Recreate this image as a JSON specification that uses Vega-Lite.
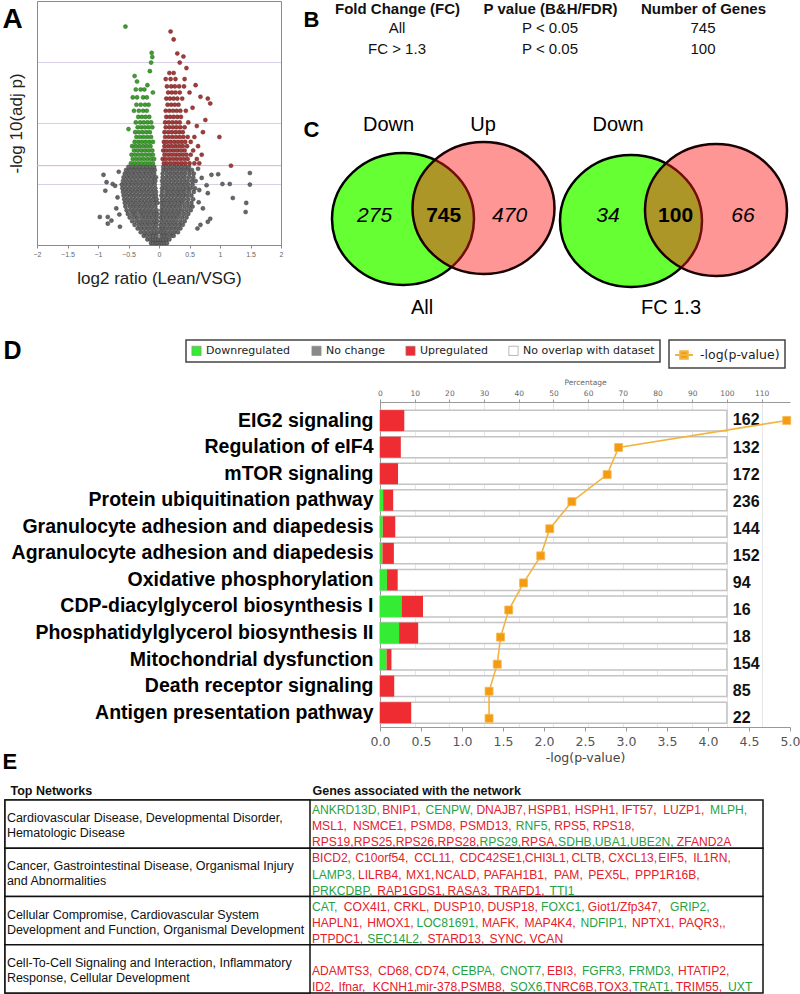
{
"$schema": "https://vega.github.io/schema/vega-lite/v6.json",
"width": 800, "height": 994,
"autosize": "none",
"padding": 0,
"background": "white",
"config": {
  "view": {"stroke": null},
  "font": "Liberation Sans",
  "axis": {"labelFont": "Liberation Sans", "titleFont": "Liberation Sans"},
  "text": {"font": "Liberation Sans"},
  "legend": {"strokeWidth": 1.5}
},
"resolve": {"scale": {"x": "independent", "y": "independent"}, "axis": {"x": "independent", "y": "independent"}},
"datasets": {
  "ns": [
{"x":-0.13,"y":0.03},{"x":-0.09,"y":0.03},{"x":-0.05,"y":0.03},{"x":-0.02,"y":0.03},{"x":0.02,"y":0.03},{"x":0.05,"y":0.03},{"x":0.09,"y":0.03},{"x":0.13,"y":0.03},
{"x":-0.19,"y":0.09},{"x":-0.14,"y":0.09},{"x":-0.09,"y":0.09},{"x":-0.05,"y":0.09},{"x":-0.01,"y":0.09},{"x":0.03,"y":0.09},{"x":0.07,"y":0.09},{"x":0.12,"y":0.09},{"x":0.17,"y":0.09},
{"x":-0.25,"y":0.15},{"x":-0.2,"y":0.15},{"x":-0.14,"y":0.15},{"x":-0.09,"y":0.15},{"x":-0.04,"y":0.15},{"x":0.04,"y":0.15},{"x":0.09,"y":0.15},{"x":0.14,"y":0.15},{"x":0.2,"y":0.15},{"x":0.24,"y":0.15},
{"x":-0.3,"y":0.21},{"x":-0.24,"y":0.21},{"x":-0.18,"y":0.21},{"x":-0.12,"y":0.21},{"x":-0.07,"y":0.21},{"x":-0.02,"y":0.21},{"x":0.03,"y":0.21},{"x":0.08,"y":0.21},{"x":0.13,"y":0.21},{"x":0.19,"y":0.21},{"x":0.25,"y":0.21},{"x":0.31,"y":0.21},
{"x":-0.35,"y":0.27},{"x":-0.29,"y":0.27},{"x":-0.23,"y":0.27},{"x":-0.17,"y":0.27},{"x":-0.11,"y":0.27},{"x":-0.05,"y":0.27},{"x":0.02,"y":0.27},{"x":0.06,"y":0.27},{"x":0.11,"y":0.27},{"x":0.17,"y":0.27},{"x":0.23,"y":0.27},{"x":0.29,"y":0.27},{"x":0.35,"y":0.27},
{"x":-0.4,"y":0.33},{"x":-0.33,"y":0.33},{"x":-0.27,"y":0.33},{"x":-0.21,"y":0.33},{"x":-0.15,"y":0.33},{"x":-0.09,"y":0.33},{"x":-0.04,"y":0.33},{"x":0.03,"y":0.33},{"x":0.09,"y":0.33},{"x":0.15,"y":0.33},{"x":0.21,"y":0.33},{"x":0.27,"y":0.33},{"x":0.33,"y":0.33},{"x":0.39,"y":0.33},
{"x":-0.44,"y":0.39},{"x":-0.37,"y":0.39},{"x":-0.31,"y":0.39},{"x":-0.25,"y":0.39},{"x":-0.19,"y":0.39},{"x":-0.13,"y":0.39},{"x":-0.07,"y":0.39},{"x":-0.03,"y":0.39},{"x":0.04,"y":0.39},{"x":0.1,"y":0.39},{"x":0.16,"y":0.39},{"x":0.22,"y":0.39},{"x":0.28,"y":0.39},{"x":0.35,"y":0.39},{"x":0.42,"y":0.39},
{"x":-0.48,"y":0.45},{"x":-0.41,"y":0.45},{"x":-0.35,"y":0.45},{"x":-0.28,"y":0.45},{"x":-0.22,"y":0.45},{"x":-0.16,"y":0.45},{"x":-0.1,"y":0.45},{"x":-0.04,"y":0.45},{"x":0.03,"y":0.45},{"x":0.07,"y":0.45},{"x":0.13,"y":0.45},{"x":0.19,"y":0.45},{"x":0.25,"y":0.45},{"x":0.31,"y":0.45},{"x":0.38,"y":0.45},{"x":0.45,"y":0.45},
{"x":-0.51,"y":0.51},{"x":-0.44,"y":0.51},{"x":-0.38,"y":0.51},{"x":-0.31,"y":0.51},{"x":-0.25,"y":0.51},{"x":-0.19,"y":0.51},{"x":-0.13,"y":0.51},{"x":-0.07,"y":0.51},{"x":-0.03,"y":0.51},{"x":0.04,"y":0.51},{"x":0.1,"y":0.51},{"x":0.16,"y":0.51},{"x":0.22,"y":0.51},{"x":0.28,"y":0.51},{"x":0.34,"y":0.51},{"x":0.41,"y":0.51},{"x":0.48,"y":0.51},
{"x":-0.53,"y":0.57},{"x":-0.46,"y":0.57},{"x":-0.4,"y":0.57},{"x":-0.34,"y":0.57},{"x":-0.28,"y":0.57},{"x":-0.22,"y":0.57},{"x":-0.16,"y":0.57},{"x":-0.1,"y":0.57},{"x":-0.04,"y":0.57},{"x":0.04,"y":0.57},{"x":0.08,"y":0.57},{"x":0.14,"y":0.57},{"x":0.2,"y":0.57},{"x":0.26,"y":0.57},{"x":0.32,"y":0.57},{"x":0.38,"y":0.57},{"x":0.45,"y":0.57},{"x":0.52,"y":0.57},
{"x":-0.55,"y":0.63},{"x":-0.48,"y":0.63},{"x":-0.42,"y":0.63},{"x":-0.36,"y":0.63},{"x":-0.3,"y":0.63},{"x":-0.24,"y":0.63},{"x":-0.18,"y":0.63},{"x":-0.12,"y":0.63},{"x":-0.06,"y":0.63},{"x":0.05,"y":0.63},{"x":0.11,"y":0.63},{"x":0.17,"y":0.63},{"x":0.23,"y":0.63},{"x":0.29,"y":0.63},{"x":0.35,"y":0.63},{"x":0.42,"y":0.63},{"x":0.49,"y":0.63},{"x":0.55,"y":0.63},
{"x":-0.56,"y":0.69},{"x":-0.5,"y":0.69},{"x":-0.44,"y":0.69},{"x":-0.38,"y":0.69},{"x":-0.32,"y":0.69},{"x":-0.26,"y":0.69},{"x":-0.2,"y":0.69},{"x":-0.14,"y":0.69},{"x":-0.08,"y":0.69},{"x":-0.03,"y":0.69},{"x":0.04,"y":0.69},{"x":0.09,"y":0.69},{"x":0.15,"y":0.69},{"x":0.21,"y":0.69},{"x":0.27,"y":0.69},{"x":0.33,"y":0.69},{"x":0.39,"y":0.69},{"x":0.46,"y":0.69},{"x":0.53,"y":0.69},
{"x":-0.57,"y":0.75},{"x":-0.51,"y":0.75},{"x":-0.45,"y":0.75},{"x":-0.39,"y":0.75},{"x":-0.33,"y":0.75},{"x":-0.27,"y":0.75},{"x":-0.21,"y":0.75},{"x":-0.15,"y":0.75},{"x":-0.09,"y":0.75},{"x":-0.04,"y":0.75},{"x":0.05,"y":0.75},{"x":0.11,"y":0.75},{"x":0.17,"y":0.75},{"x":0.23,"y":0.75},{"x":0.29,"y":0.75},{"x":0.35,"y":0.75},{"x":0.41,"y":0.75},{"x":0.48,"y":0.75},{"x":0.56,"y":0.75},
{"x":-0.58,"y":0.81},{"x":-0.52,"y":0.81},{"x":-0.46,"y":0.81},{"x":-0.4,"y":0.81},{"x":-0.34,"y":0.81},{"x":-0.28,"y":0.81},{"x":-0.22,"y":0.81},{"x":-0.16,"y":0.81},{"x":-0.1,"y":0.81},{"x":-0.05,"y":0.81},{"x":0.04,"y":0.81},{"x":0.1,"y":0.81},{"x":0.16,"y":0.81},{"x":0.22,"y":0.81},{"x":0.28,"y":0.81},{"x":0.34,"y":0.81},{"x":0.4,"y":0.81},{"x":0.46,"y":0.81},{"x":0.53,"y":0.81},
{"x":-0.59,"y":0.87},{"x":-0.53,"y":0.87},{"x":-0.47,"y":0.87},{"x":-0.41,"y":0.87},{"x":-0.35,"y":0.87},{"x":-0.29,"y":0.87},{"x":-0.23,"y":0.87},{"x":-0.17,"y":0.87},{"x":-0.11,"y":0.87},{"x":-0.05,"y":0.87},{"x":0.05,"y":0.87},{"x":0.12,"y":0.87},{"x":0.18,"y":0.87},{"x":0.24,"y":0.87},{"x":0.3,"y":0.87},{"x":0.36,"y":0.87},{"x":0.42,"y":0.87},{"x":0.49,"y":0.87},{"x":0.57,"y":0.87},
{"x":-0.6,"y":0.93},{"x":-0.54,"y":0.93},{"x":-0.48,"y":0.93},{"x":-0.42,"y":0.93},{"x":-0.36,"y":0.93},{"x":-0.3,"y":0.93},{"x":-0.24,"y":0.93},{"x":-0.18,"y":0.93},{"x":-0.12,"y":0.93},{"x":-0.06,"y":0.93},{"x":0.05,"y":0.93},{"x":0.1,"y":0.93},{"x":0.16,"y":0.93},{"x":0.22,"y":0.93},{"x":0.28,"y":0.93},{"x":0.34,"y":0.93},{"x":0.4,"y":0.93},{"x":0.46,"y":0.93},{"x":0.52,"y":0.93},{"x":0.59,"y":0.93},
{"x":-0.61,"y":0.99},{"x":-0.55,"y":0.99},{"x":-0.49,"y":0.99},{"x":-0.43,"y":0.99},{"x":-0.37,"y":0.99},{"x":-0.31,"y":0.99},{"x":-0.25,"y":0.99},{"x":-0.19,"y":0.99},{"x":-0.13,"y":0.99},{"x":-0.07,"y":0.99},{"x":0.06,"y":0.99},{"x":0.12,"y":0.99},{"x":0.18,"y":0.99},{"x":0.24,"y":0.99},{"x":0.3,"y":0.99},{"x":0.36,"y":0.99},{"x":0.42,"y":0.99},{"x":0.48,"y":0.99},{"x":0.55,"y":0.99},
{"x":-0.59,"y":1.05},{"x":-0.53,"y":1.05},{"x":-0.47,"y":1.05},{"x":-0.41,"y":1.05},{"x":-0.35,"y":1.05},{"x":-0.29,"y":1.05},{"x":-0.23,"y":1.05},{"x":-0.17,"y":1.05},{"x":-0.11,"y":1.05},{"x":-0.06,"y":1.05},{"x":0.05,"y":1.05},{"x":0.11,"y":1.05},{"x":0.17,"y":1.05},{"x":0.23,"y":1.05},{"x":0.29,"y":1.05},{"x":0.35,"y":1.05},{"x":0.41,"y":1.05},{"x":0.47,"y":1.05},{"x":0.54,"y":1.05},{"x":0.6,"y":1.05},
{"x":-0.58,"y":1.11},{"x":-0.52,"y":1.11},{"x":-0.46,"y":1.11},{"x":-0.4,"y":1.11},{"x":-0.34,"y":1.11},{"x":-0.28,"y":1.11},{"x":-0.22,"y":1.11},{"x":-0.16,"y":1.11},{"x":-0.1,"y":1.11},{"x":-0.05,"y":1.11},{"x":0.06,"y":1.11},{"x":0.12,"y":1.11},{"x":0.18,"y":1.11},{"x":0.24,"y":1.11},{"x":0.3,"y":1.11},{"x":0.36,"y":1.11},{"x":0.42,"y":1.11},{"x":0.49,"y":1.11},{"x":0.56,"y":1.11},
{"x":-0.56,"y":1.17},{"x":-0.5,"y":1.17},{"x":-0.44,"y":1.17},{"x":-0.38,"y":1.17},{"x":-0.32,"y":1.17},{"x":-0.26,"y":1.17},{"x":-0.2,"y":1.17},{"x":-0.14,"y":1.17},{"x":-0.08,"y":1.17},{"x":0.06,"y":1.17},{"x":0.13,"y":1.17},{"x":0.19,"y":1.17},{"x":0.25,"y":1.17},{"x":0.31,"y":1.17},{"x":0.37,"y":1.17},{"x":0.43,"y":1.17},{"x":0.5,"y":1.17},{"x":0.57,"y":1.17},
{"x":-0.54,"y":1.23},{"x":-0.48,"y":1.23},{"x":-0.42,"y":1.23},{"x":-0.36,"y":1.23},{"x":-0.3,"y":1.23},{"x":-0.24,"y":1.23},{"x":-0.18,"y":1.23},{"x":-0.12,"y":1.23},{"x":-0.07,"y":1.23},{"x":0.07,"y":1.23},{"x":0.12,"y":1.23},{"x":0.18,"y":1.23},{"x":0.24,"y":1.23},{"x":0.3,"y":1.23},{"x":0.36,"y":1.23},{"x":0.42,"y":1.23},{"x":0.48,"y":1.23},{"x":0.54,"y":1.23},
{"x":-0.5,"y":1.28},{"x":-0.44,"y":1.28},{"x":-0.38,"y":1.28},{"x":-0.32,"y":1.28},{"x":-0.26,"y":1.28},{"x":-0.2,"y":1.28},{"x":-0.14,"y":1.28},{"x":-0.08,"y":1.28},{"x":0.07,"y":1.28},{"x":0.13,"y":1.28},{"x":0.19,"y":1.28},{"x":0.25,"y":1.28},{"x":0.31,"y":1.28},{"x":0.37,"y":1.28},{"x":0.43,"y":1.28},{"x":0.49,"y":1.28},
{"x":-0.97,"y":0.46},{"x":-0.84,"y":0.46},{"x":-0.84,"y":0.35},{"x":-0.78,"y":0.4},{"x":-0.88,"y":0.89},{"x":-0.91,"y":1.15},{"x":-0.86,"y":1.03},{"x":-0.76,"y":1.0},{"x":-0.72,"y":0.97},{"x":-0.7,"y":0.6},{"x":-0.68,"y":0.78},{"x":-0.66,"y":1.2},{"x":-0.64,"y":0.3},{"x":-0.65,"y":0.5},
{"x":1.49,"y":1.18},{"x":1.49,"y":0.99},{"x":1.43,"y":0.69},{"x":1.42,"y":0.54},{"x":1.21,"y":0.77},{"x":1.16,"y":1.0},{"x":1.04,"y":1.0},{"x":0.97,"y":1.16},{"x":0.86,"y":1.15},{"x":0.78,"y":0.98},{"x":0.8,"y":0.85},{"x":0.84,"y":0.43},{"x":0.8,"y":0.38},{"x":0.63,"y":0.27},{"x":0.68,"y":0.33},{"x":0.65,"y":0.7},{"x":0.7,"y":1.1},{"x":0.66,"y":0.9},{"x":0.72,"y":0.6},{"x":0.64,"y":1.25}
  ],
  "down": [
{"x":-0.46,"y":1.34},{"x":-0.4,"y":1.34},{"x":-0.34,"y":1.34},{"x":-0.28,"y":1.34},{"x":-0.22,"y":1.34},{"x":-0.16,"y":1.34},{"x":-0.1,"y":1.34},
{"x":-0.43,"y":1.41},{"x":-0.37,"y":1.41},{"x":-0.31,"y":1.41},{"x":-0.25,"y":1.41},{"x":-0.19,"y":1.41},{"x":-0.13,"y":1.41},{"x":-0.08,"y":1.41},
{"x":-0.45,"y":1.48},{"x":-0.39,"y":1.48},{"x":-0.33,"y":1.48},{"x":-0.27,"y":1.48},{"x":-0.21,"y":1.48},{"x":-0.15,"y":1.48},{"x":-0.1,"y":1.48},
{"x":-0.41,"y":1.55},{"x":-0.35,"y":1.55},{"x":-0.29,"y":1.55},{"x":-0.23,"y":1.55},{"x":-0.17,"y":1.55},{"x":-0.11,"y":1.55},
{"x":-0.44,"y":1.62},{"x":-0.38,"y":1.62},{"x":-0.32,"y":1.62},{"x":-0.26,"y":1.62},{"x":-0.2,"y":1.62},{"x":-0.14,"y":1.62},
{"x":-0.4,"y":1.69},{"x":-0.34,"y":1.69},{"x":-0.28,"y":1.69},{"x":-0.22,"y":1.69},{"x":-0.16,"y":1.69},{"x":-0.1,"y":1.69},
{"x":-0.37,"y":1.77},{"x":-0.31,"y":1.77},{"x":-0.25,"y":1.77},{"x":-0.19,"y":1.77},{"x":-0.13,"y":1.77},
{"x":-0.39,"y":1.85},{"x":-0.33,"y":1.85},{"x":-0.27,"y":1.85},{"x":-0.21,"y":1.85},{"x":-0.15,"y":1.85},
{"x":-0.35,"y":1.93},{"x":-0.29,"y":1.93},{"x":-0.23,"y":1.93},{"x":-0.17,"y":1.93},{"x":-0.11,"y":1.93},
{"x":-0.38,"y":2.01},{"x":-0.31,"y":2.01},{"x":-0.25,"y":2.01},{"x":-0.19,"y":2.01},{"x":-0.13,"y":2.01},
{"x":-0.34,"y":2.1},{"x":-0.28,"y":2.1},{"x":-0.22,"y":2.1},{"x":-0.16,"y":2.1},
{"x":-0.41,"y":2.2},{"x":-0.33,"y":2.2},{"x":-0.26,"y":2.2},{"x":-0.2,"y":2.2},
{"x":-0.37,"y":2.3},{"x":-0.3,"y":2.3},{"x":-0.23,"y":2.3},{"x":-0.17,"y":2.3},
{"x":-0.43,"y":2.42},{"x":-0.36,"y":2.42},{"x":-0.26,"y":2.42},{"x":-0.2,"y":2.42},
{"x":-0.38,"y":2.55},{"x":-0.3,"y":2.55},{"x":-0.24,"y":2.55},
{"x":-0.36,"y":2.68},{"x":-0.19,"y":2.62},
{"x":-0.55,"y":3.58},{"x":-0.12,"y":3.15},{"x":-0.11,"y":3.08},{"x":-0.13,"y":2.99},{"x":-0.4,"y":2.77},{"x":-0.15,"y":2.85},{"x":-0.1,"y":2.5},{"x":-0.5,"y":1.9}
  ],
  "up": [
{"x":0.08,"y":1.34},{"x":0.13,"y":1.34},{"x":0.19,"y":1.34},{"x":0.25,"y":1.34},{"x":0.31,"y":1.34},{"x":0.37,"y":1.34},{"x":0.43,"y":1.34},{"x":0.5,"y":1.34},{"x":0.58,"y":1.34},{"x":0.66,"y":1.34},
{"x":0.06,"y":1.41},{"x":0.11,"y":1.41},{"x":0.17,"y":1.41},{"x":0.23,"y":1.41},{"x":0.29,"y":1.41},{"x":0.35,"y":1.41},{"x":0.41,"y":1.41},{"x":0.47,"y":1.41},{"x":0.62,"y":1.41},
{"x":0.09,"y":1.48},{"x":0.15,"y":1.48},{"x":0.21,"y":1.48},{"x":0.27,"y":1.48},{"x":0.33,"y":1.48},{"x":0.39,"y":1.48},{"x":0.45,"y":1.48},{"x":0.52,"y":1.48},{"x":0.7,"y":1.48},
{"x":0.07,"y":1.55},{"x":0.12,"y":1.55},{"x":0.18,"y":1.55},{"x":0.24,"y":1.55},{"x":0.3,"y":1.55},{"x":0.36,"y":1.55},{"x":0.42,"y":1.55},{"x":0.56,"y":1.55},
{"x":0.09,"y":1.62},{"x":0.15,"y":1.62},{"x":0.21,"y":1.62},{"x":0.27,"y":1.62},{"x":0.33,"y":1.62},{"x":0.39,"y":1.62},{"x":0.46,"y":1.62},{"x":0.64,"y":1.62},
{"x":0.08,"y":1.69},{"x":0.13,"y":1.69},{"x":0.19,"y":1.69},{"x":0.25,"y":1.69},{"x":0.31,"y":1.69},{"x":0.37,"y":1.69},{"x":0.43,"y":1.69},{"x":0.52,"y":1.69},
{"x":0.1,"y":1.77},{"x":0.16,"y":1.77},{"x":0.22,"y":1.77},{"x":0.28,"y":1.77},{"x":0.34,"y":1.77},{"x":0.4,"y":1.77},{"x":0.47,"y":1.77},{"x":0.58,"y":1.77},
{"x":0.09,"y":1.85},{"x":0.15,"y":1.85},{"x":0.21,"y":1.85},{"x":0.27,"y":1.85},{"x":0.33,"y":1.85},{"x":0.39,"y":1.85},{"x":0.72,"y":1.85},
{"x":0.11,"y":1.93},{"x":0.17,"y":1.93},{"x":0.23,"y":1.93},{"x":0.29,"y":1.93},{"x":0.35,"y":1.93},{"x":0.42,"y":1.93},
{"x":0.1,"y":2.01},{"x":0.16,"y":2.01},{"x":0.22,"y":2.01},{"x":0.28,"y":2.01},{"x":0.34,"y":2.01},{"x":0.48,"y":2.01},
{"x":0.12,"y":2.1},{"x":0.18,"y":2.1},{"x":0.24,"y":2.1},{"x":0.3,"y":2.1},{"x":0.36,"y":2.1},
{"x":0.11,"y":2.2},{"x":0.17,"y":2.2},{"x":0.23,"y":2.2},{"x":0.29,"y":2.2},{"x":0.35,"y":2.2},{"x":0.44,"y":2.2},
{"x":0.14,"y":2.3},{"x":0.2,"y":2.3},{"x":0.26,"y":2.3},{"x":0.32,"y":2.3},
{"x":0.12,"y":2.4},{"x":0.18,"y":2.4},{"x":0.24,"y":2.4},{"x":0.3,"y":2.4},{"x":0.38,"y":2.4},
{"x":0.15,"y":2.5},{"x":0.21,"y":2.5},{"x":0.27,"y":2.5},{"x":0.34,"y":2.5},
{"x":0.13,"y":2.6},{"x":0.2,"y":2.6},{"x":0.26,"y":2.6},{"x":0.33,"y":2.6},{"x":0.41,"y":2.6},
{"x":0.11,"y":2.72},{"x":0.19,"y":2.72},{"x":0.27,"y":2.72},{"x":0.42,"y":2.72},
{"x":0.17,"y":2.82},{"x":0.24,"y":2.82},
{"x":0.19,"y":3.5},{"x":0.24,"y":3.37},{"x":0.3,"y":3.14},{"x":0.4,"y":3.09},{"x":0.34,"y":2.99},{"x":0.84,"y":2.32},{"x":0.8,"y":2.4},{"x":0.68,"y":2.43},{"x":0.99,"y":1.77},{"x":1.18,"y":1.3},{"x":0.6,"y":2.62},{"x":0.45,"y":2.9},{"x":0.76,"y":2.05},{"x":0.62,"y":1.95},{"x":0.55,"y":2.25},{"x":0.5,"y":2.5}
  ],
  "tableB": [
    {"col":"Fold Change (FC)","row":1,"v":"All"},
    {"col":"P value (B&H/FDR)","row":1,"v":"P < 0.05"},
    {"col":"Number of Genes","row":1,"v":"745"},
    {"col":"Fold Change (FC)","row":2,"v":"FC > 1.3"},
    {"col":"P value (B&H/FDR)","row":2,"v":"P < 0.05"},
    {"col":"Number of Genes","row":2,"v":"100"}
  ],
  "venn": [
    {"venn":"All","set":"Down","cx":8.3,"cy":11.9},
    {"venn":"All","set":"Up","cx":16.35,"cy":10.8},
    {"venn":"FC 1.3","set":"Down","cx":31.1,"cy":12.1},
    {"venn":"FC 1.3","set":"Up","cx":39.6,"cy":11.0}
  ],
  "vennlab": [
    {"t":"275","k":"one","x":5.46,"y":11.6},
    {"t":"745","k":"both","x":12.37,"y":11.6},
    {"t":"470","k":"one","x":18.96,"y":11.6},
    {"t":"34","k":"one","x":28.8,"y":11.6},
    {"t":"100","k":"both","x":35.56,"y":11.6},
    {"t":"66","k":"one","x":42.3,"y":11.6},
    {"t":"Down","k":"name","x":6.86,"y":2.46},
    {"t":"Up","k":"name","x":16.3,"y":2.46},
    {"t":"Down","k":"name","x":29.8,"y":2.46},
    {"t":"All","k":"name","x":10.2,"y":20.8},
    {"t":"FC 1.3","k":"name","x":35.1,"y":20.8}
  ],
  "paths": [
    {"idx":1,"pathway":"EIG2 signaling","n":162,"logp":4.96,"Downregulated":0,"Upregulated":7.0},
    {"idx":2,"pathway":"Regulation of eIF4","n":132,"logp":2.91,"Downregulated":0,"Upregulated":6.0},
    {"idx":3,"pathway":"mTOR signaling","n":172,"logp":2.77,"Downregulated":0,"Upregulated":5.2},
    {"idx":4,"pathway":"Protein ubiquitination pathway","n":236,"logp":2.34,"Downregulated":0.9,"Upregulated":2.9},
    {"idx":5,"pathway":"Granulocyte adhesion and diapedesis","n":144,"logp":2.07,"Downregulated":0.8,"Upregulated":3.6},
    {"idx":6,"pathway":"Agranulocyte adhesion and diapedesis","n":152,"logp":1.96,"Downregulated":0.7,"Upregulated":3.3},
    {"idx":7,"pathway":"Oxidative phosphorylation","n":94,"logp":1.75,"Downregulated":2.0,"Upregulated":3.1},
    {"idx":8,"pathway":"CDP-diacylglycerol biosynthesis I","n":16,"logp":1.57,"Downregulated":6.2,"Upregulated":6.2},
    {"idx":9,"pathway":"Phosphatidylglycerol biosynthesis II","n":18,"logp":1.47,"Downregulated":5.5,"Upregulated":5.5},
    {"idx":10,"pathway":"Mitochondrial dysfunction","n":154,"logp":1.43,"Downregulated":1.9,"Upregulated":1.4},
    {"idx":11,"pathway":"Death receptor signaling","n":85,"logp":1.33,"Downregulated":0,"Upregulated":4.1},
    {"idx":12,"pathway":"Antigen presentation pathway","n":22,"logp":1.33,"Downregulated":0,"Upregulated":9.0}
  ],
  "nets": [
    {"net":1,"title":["Cardiovascular Disease, Developmental Disorder,","Hematologic Disease"]},
    {"net":2,"title":["Cancer, Gastrointestinal Disease, Organismal Injury","and Abnormalities"]},
    {"net":3,"title":["Cellular Compromise, Cardiovascular System","Development and Function, Organismal Development"]},
    {"net":4,"title":["Cell-To-Cell Signaling and Interaction, Inflammatory","Response, Cellular Development"]}
  ],
  "genes": [
    {"net":1,"line":1,"seq":1,"g":"ANKRD13D, ","d":"down"},
    {"net":1,"line":1,"seq":2,"g":"BNIP1, ","d":"up"},
    {"net":1,"line":1,"seq":3,"g":"CENPW, ","d":"down"},
    {"net":1,"line":1,"seq":4,"g":"DNAJB7, ","d":"up"},
    {"net":1,"line":1,"seq":5,"g":"HSPB1, ","d":"up"},
    {"net":1,"line":1,"seq":6,"g":"HSPH1, ","d":"up"},
    {"net":1,"line":1,"seq":7,"g":"IFT57, ","d":"up"},
    {"net":1,"line":1,"seq":8,"g":"LUZP1, ","d":"up"},
    {"net":1,"line":1,"seq":9,"g":"MLPH,","d":"down"},
    {"net":1,"line":2,"seq":1,"g":"MSL1, ","d":"up"},
    {"net":1,"line":2,"seq":2,"g":"NSMCE1, ","d":"up"},
    {"net":1,"line":2,"seq":3,"g":"PSMD8, ","d":"up"},
    {"net":1,"line":2,"seq":4,"g":"PSMD13, ","d":"up"},
    {"net":1,"line":2,"seq":5,"g":"RNF5, ","d":"down"},
    {"net":1,"line":2,"seq":6,"g":"RPS5, ","d":"up"},
    {"net":1,"line":2,"seq":7,"g":"RPS18,","d":"up"},
    {"net":1,"line":3,"seq":1,"g":"RPS19,","d":"up"},
    {"net":1,"line":3,"seq":2,"g":"RPS25,","d":"up"},
    {"net":1,"line":3,"seq":3,"g":"RPS26,","d":"up"},
    {"net":1,"line":3,"seq":4,"g":"RPS28,","d":"up"},
    {"net":1,"line":3,"seq":5,"g":"RPS29,","d":"down"},
    {"net":1,"line":3,"seq":6,"g":"RPSA,","d":"up"},
    {"net":1,"line":3,"seq":7,"g":"SDHB,","d":"down"},
    {"net":1,"line":3,"seq":8,"g":"UBA1,","d":"down"},
    {"net":1,"line":3,"seq":9,"g":"UBE2N, ","d":"down"},
    {"net":1,"line":3,"seq":10,"g":"ZFAND2A","d":"up"},
    {"net":2,"line":1,"seq":1,"g":"BICD2, ","d":"up"},
    {"net":2,"line":1,"seq":2,"g":"C10orf54, ","d":"up"},
    {"net":2,"line":1,"seq":3,"g":"CCL11, ","d":"up"},
    {"net":2,"line":1,"seq":4,"g":"CDC42SE1,","d":"up"},
    {"net":2,"line":1,"seq":5,"g":"CHI3L1,","d":"up"},
    {"net":2,"line":1,"seq":6,"g":"CLTB,","d":"up"},
    {"net":2,"line":1,"seq":7,"g":"CXCL13,","d":"up"},
    {"net":2,"line":1,"seq":8,"g":"EIF5, ","d":"up"},
    {"net":2,"line":1,"seq":9,"g":"IL1RN,","d":"up"},
    {"net":2,"line":2,"seq":1,"g":"LAMP3,","d":"down"},
    {"net":2,"line":2,"seq":2,"g":"LILRB4,","d":"up"},
    {"net":2,"line":2,"seq":3,"g":"MX1,","d":"up"},
    {"net":2,"line":2,"seq":4,"g":"NCALD, ","d":"up"},
    {"net":2,"line":2,"seq":5,"g":"PAFAH1B1, ","d":"up"},
    {"net":2,"line":2,"seq":6,"g":"PAM, ","d":"up"},
    {"net":2,"line":2,"seq":7,"g":"PEX5L, ","d":"up"},
    {"net":2,"line":2,"seq":8,"g":"PPP1R16B,","d":"up"},
    {"net":2,"line":3,"seq":1,"g":"PRKCDBP, ","d":"down"},
    {"net":2,"line":3,"seq":2,"g":"RAP1GDS1, ","d":"up"},
    {"net":2,"line":3,"seq":3,"g":"RASA3, ","d":"up"},
    {"net":2,"line":3,"seq":4,"g":"TRAFD1, ","d":"up"},
    {"net":2,"line":3,"seq":5,"g":"TTI1","d":"down"},
    {"net":3,"line":1,"seq":1,"g":"CAT, ","d":"down"},
    {"net":3,"line":1,"seq":2,"g":"COX4I1, ","d":"up"},
    {"net":3,"line":1,"seq":3,"g":"CRKL, ","d":"up"},
    {"net":3,"line":1,"seq":4,"g":"DUSP10, ","d":"up"},
    {"net":3,"line":1,"seq":5,"g":"DUSP18, ","d":"up"},
    {"net":3,"line":1,"seq":6,"g":"FOXC1, ","d":"down"},
    {"net":3,"line":1,"seq":7,"g":"Giot1/Zfp347, ","d":"up"},
    {"net":3,"line":1,"seq":8,"g":"GRIP2,","d":"down"},
    {"net":3,"line":2,"seq":1,"g":"HAPLN1, ","d":"up"},
    {"net":3,"line":2,"seq":2,"g":"HMOX1, ","d":"up"},
    {"net":3,"line":2,"seq":3,"g":"LOC81691, ","d":"down"},
    {"net":3,"line":2,"seq":4,"g":"MAFK, ","d":"up"},
    {"net":3,"line":2,"seq":5,"g":"MAP4K4, ","d":"up"},
    {"net":3,"line":2,"seq":6,"g":"NDFIP1, ","d":"down"},
    {"net":3,"line":2,"seq":7,"g":"NPTX1, ","d":"up"},
    {"net":3,"line":2,"seq":8,"g":"PAQR3,,","d":"up"},
    {"net":3,"line":3,"seq":1,"g":"PTPDC1, ","d":"up"},
    {"net":3,"line":3,"seq":2,"g":"SEC14L2, ","d":"down"},
    {"net":3,"line":3,"seq":3,"g":"STARD13, ","d":"up"},
    {"net":3,"line":3,"seq":4,"g":"SYNC, ","d":"up"},
    {"net":3,"line":3,"seq":5,"g":"VCAN","d":"up"},
    {"net":4,"line":2,"seq":1,"g":"ADAMTS3, ","d":"up"},
    {"net":4,"line":2,"seq":2,"g":"CD68, ","d":"up"},
    {"net":4,"line":2,"seq":3,"g":"CD74, ","d":"up"},
    {"net":4,"line":2,"seq":4,"g":"CEBPA, ","d":"down"},
    {"net":4,"line":2,"seq":5,"g":"CNOT7, ","d":"down"},
    {"net":4,"line":2,"seq":6,"g":"EBI3, ","d":"up"},
    {"net":4,"line":2,"seq":7,"g":"FGFR3, ","d":"down"},
    {"net":4,"line":2,"seq":8,"g":"FRMD3, ","d":"down"},
    {"net":4,"line":2,"seq":9,"g":"HTATIP2,","d":"up"},
    {"net":4,"line":3,"seq":1,"g":"ID2, ","d":"up"},
    {"net":4,"line":3,"seq":2,"g":"Ifnar, ","d":"up"},
    {"net":4,"line":3,"seq":3,"g":"KCNH1,","d":"up"},
    {"net":4,"line":3,"seq":4,"g":"mir-378,","d":"up"},
    {"net":4,"line":3,"seq":5,"g":"PSMB8, ","d":"up"},
    {"net":4,"line":3,"seq":6,"g":"SOX6,","d":"down"},
    {"net":4,"line":3,"seq":7,"g":"TNRC6B,","d":"up"},
    {"net":4,"line":3,"seq":8,"g":"TOX3,","d":"up"},
    {"net":4,"line":3,"seq":9,"g":"TRAT1,","d":"down"},
    {"net":4,"line":3,"seq":10,"g":"TRIM55, ","d":"up"},
    {"net":4,"line":3,"seq":11,"g":"UXT","d":"down"}
  ]
},
"layer": [
  {
    "data": {"values": [{}]},
    "mark": {"type": "rule", "color": "#E8AACB", "strokeWidth": 1},
    "encoding": {
      "x": {"datum": -2, "type": "quantitative", "scale": {"domain": [-2, 2], "range": [37, 281], "nice": false, "zero": false}, "axis": null},
      "x2": {"datum": 2},
      "y": {"datum": 1.301, "type": "quantitative", "scale": {"domain": [0, 4], "range": [245, 1], "nice": false, "zero": false}, "axis": null}
    }
  },
  {
    "data": {"name": "ns"},
    "mark": {"type": "point", "filled": true, "size": 17, "color": "#676767", "stroke": "#333333", "strokeWidth": 0.4, "opacity": 1},
    "encoding": {
      "x": {"field": "x", "type": "quantitative", "scale": {"domain": [-2, 2], "range": [37, 281], "nice": false, "zero": false},
        "axis": {"orient": "bottom", "offset": -749, "values": [-2, -1.5, -1, -0.5, 0, 0.5, 1, 1.5, 2], "format": "~g", "labelFontSize": 7, "labelColor": "#666", "tickSize": 3, "tickColor": "#888", "domainColor": "#8A8A8A", "grid": false, "labelPadding": 2, "labelFlush": false, "title": "log2 ratio (Lean/VSG)", "titleFontSize": 17, "titleFontWeight": "normal", "titleColor": "#222", "titlePadding": 13}},
      "y": {"field": "y", "type": "quantitative", "scale": {"domain": [0, 4], "range": [245, 1], "nice": false, "zero": false},
        "axis": {"orient": "left", "offset": -37, "values": [1, 2, 3], "labels": false, "ticks": false, "domainColor": "#8A8A8A", "grid": true, "gridColor": "#D9D0E6", "title": "-log 10(adj p)", "titleFontSize": 17, "titleFontWeight": "normal", "titleColor": "#222", "titlePadding": 12}}
    }
  },
  {
    "data": {"name": "down"},
    "mark": {"type": "point", "filled": true, "size": 17, "color": "#3E9F2F", "stroke": "#1F5A17", "strokeWidth": 0.4, "opacity": 1},
    "encoding": {
      "x": {"field": "x", "type": "quantitative", "scale": {"domain": [-2, 2], "range": [37, 281], "nice": false, "zero": false},
        "axis": {"orient": "top", "offset": -1, "labels": false, "ticks": false, "grid": false, "title": null, "domainColor": "#8A8A8A"}},
      "y": {"field": "y", "type": "quantitative", "scale": {"domain": [0, 4], "range": [245, 1], "nice": false, "zero": false}, "axis": null}
    }
  },
  {
    "data": {"name": "up"},
    "mark": {"type": "point", "filled": true, "size": 17, "color": "#A33B3B", "stroke": "#5C1A1A", "strokeWidth": 0.4, "opacity": 1},
    "encoding": {
      "x": {"field": "x", "type": "quantitative", "scale": {"domain": [-2, 2], "range": [37, 281], "nice": false, "zero": false}, "axis": null},
      "y": {"field": "y", "type": "quantitative", "scale": {"domain": [0, 4], "range": [245, 1], "nice": false, "zero": false},
        "axis": {"orient": "right", "offset": -519, "labels": false, "ticks": false, "grid": false, "title": null, "domainColor": "#8A8A8A"}}
    }
  },
  {
    "data": {"name": "tableB"},
    "mark": {"type": "text", "fontSize": 15, "color": "#111", "baseline": "middle"},
    "encoding": {
      "x": {"field": "col", "type": "nominal", "scale": {"domain": ["Fold Change (FC)", "P value (B&H/FDR)", "Number of Genes"], "range": [320.5, 779.5], "paddingInner": 0, "paddingOuter": 0},
        "axis": {"orient": "top", "offset": -17.5, "labelFontWeight": "bold", "labelFontSize": 15, "labelColor": "#111", "labelAngle": 0, "labelPadding": 1, "ticks": false, "domain": false, "grid": false, "labelLimit": 0,
          "title": "A", "titleX": 2, "titleY": 9.5, "titleAngle": 0, "titleAlign": "left", "titleBaseline": "alphabetic", "titleFontSize": 28, "titleFontWeight": "bold", "titleColor": "#000"}},
      "y": {"field": "row", "type": "ordinal", "scale": {"domain": [1, 2], "range": [17.5, 59.5], "paddingInner": 0, "paddingOuter": 0},
        "axis": {"orient": "left", "offset": 0, "title": "B", "titleX": 303, "titleY": 26, "titleAngle": 0, "titleAlign": "left", "titleBaseline": "alphabetic", "titleFontSize": 22, "titleFontWeight": "bold", "titleColor": "#000", "labels": false, "ticks": false, "domain": false, "grid": false}},
      "text": {"field": "v"}
    }
  },
  {
    "data": {"name": "venn"},
    "transform": [{"filter": "datum.set == 'Down'"}],
    "mark": {"type": "point", "shape": "M-1,0A1,0.93,0,1,1,1,0A1,0.93,0,1,1,-1,0Z", "filled": true, "size": 20164, "fill": "#66FF33", "stroke": "#000000", "strokeWidth": 2.5, "opacity": 1},
    "encoding": {
      "x": {"field": "cx", "type": "quantitative", "scale": {"domain": [0, 47], "range": [320, 790], "nice": false, "zero": false}, "axis": null},
      "y": {"field": "cy", "type": "quantitative", "scale": {"domain": [0, 22], "range": [100, 320], "nice": false, "zero": false},
        "axis": {"orient": "left", "offset": 0, "title": "C", "titleX": 303, "titleY": 136, "titleAngle": 0, "titleAlign": "left", "titleBaseline": "alphabetic", "titleFontSize": 22, "titleFontWeight": "bold", "titleColor": "#000", "labels": false, "ticks": false, "domain": false, "grid": false}}
    }
  },
  {
    "data": {"name": "venn"},
    "transform": [{"filter": "datum.set == 'Up'"}],
    "mark": {"type": "point", "shape": "M-1,0A1,0.93,0,1,1,1,0A1,0.93,0,1,1,-1,0Z", "filled": true, "size": 20164, "fill": "#FF1A1A", "fillOpacity": 0.46, "stroke": "#1A0000", "strokeOpacity": 1, "strokeWidth": 2.5, "opacity": 1},
    "encoding": {
      "x": {"field": "cx", "type": "quantitative", "scale": {"domain": [0, 47], "range": [320, 790], "nice": false, "zero": false}, "axis": null},
      "y": {"field": "cy", "type": "quantitative", "scale": {"domain": [0, 22], "range": [100, 320], "nice": false, "zero": false}, "axis": null}
    }
  },
  {
    "data": {"name": "vennlab"},
    "transform": [{"filter": "datum.k == 'one'"}],
    "mark": {"type": "text", "fontSize": 21, "fontStyle": "italic", "color": "#000", "baseline": "middle"},
    "encoding": {
      "x": {"field": "x", "type": "quantitative", "scale": {"domain": [0, 47], "range": [320, 790], "nice": false, "zero": false}, "axis": null},
      "y": {"field": "y", "type": "quantitative", "scale": {"domain": [0, 22], "range": [100, 320], "nice": false, "zero": false}, "axis": null},
      "text": {"field": "t"}
    }
  },
  {
    "data": {"name": "vennlab"},
    "transform": [{"filter": "datum.k == 'both'"}],
    "mark": {"type": "text", "fontSize": 21, "fontWeight": "bold", "color": "#000", "baseline": "middle"},
    "encoding": {
      "x": {"field": "x", "type": "quantitative", "scale": {"domain": [0, 47], "range": [320, 790], "nice": false, "zero": false}, "axis": null},
      "y": {"field": "y", "type": "quantitative", "scale": {"domain": [0, 22], "range": [100, 320], "nice": false, "zero": false}, "axis": null},
      "text": {"field": "t"}
    }
  },
  {
    "data": {"name": "vennlab"},
    "transform": [{"filter": "datum.k == 'name'"}],
    "mark": {"type": "text", "fontSize": 20, "color": "#000", "baseline": "middle"},
    "encoding": {
      "x": {"field": "x", "type": "quantitative", "scale": {"domain": [0, 47], "range": [320, 790], "nice": false, "zero": false}, "axis": null},
      "y": {"field": "y", "type": "quantitative", "scale": {"domain": [0, 22], "range": [100, 320], "nice": false, "zero": false}, "axis": null},
      "text": {"field": "t"}
    }
  },
  {
    "data": {"name": "paths"},
    "mark": {"type": "bar", "stroke": "#C4C4C4", "strokeWidth": 1.5},
    "encoding": {
      "y": {"field": "pathway", "type": "nominal", "sort": null,
        "scale": {"range": [402, 727], "paddingInner": 0.21, "paddingOuter": 0.225, "align": 0.68},
        "axis": {"orient": "left", "offset": -380, "title": "D", "titleAngle": 0, "titleX": -377, "titleY": 358, "titleAlign": "left", "titleBaseline": "alphabetic", "titleFontSize": 25, "titleFontWeight": "bold", "titleColor": "#000",
          "labelFont": "Liberation Sans", "labelFontSize": 19.5, "labelFontWeight": "bold", "labelColor": "#000", "labelPadding": 7, "labelLimit": 0, "ticks": false, "grid": false, "domainColor": "#999"}},
      "x": {"datum": 0, "type": "quantitative", "scale": {"domain": [0, 118.2], "range": [380, 790], "nice": false, "zero": false},
        "axis": {"orient": "top", "offset": -402, "values": [0, 10, 20, 30, 40, 50, 60, 70, 80, 90, 100, 110, 120], "title": "Percentage", "titleFont": "DejaVu Sans", "titleFontSize": 7.5, "titleFontWeight": "normal", "titleColor": "#666", "titlePadding": 3,
          "labelFont": "DejaVu Sans", "labelFontSize": 7.5, "labelColor": "#666", "labelPadding": 2, "tickSize": 3, "tickColor": "#999", "domainColor": "#999", "grid": true, "gridColor": "#E6E6E6", "labelFlush": false, "labelBound": false, "labelOverlap": false}},
      "x2": {"datum": 100},
      "fill": {"datum": "No overlap with dataset", "type": "nominal",
        "scale": {"domain": ["Downregulated", "No change", "Upregulated", "No overlap with dataset"], "range": ["#35EC35", "#8A8A8A", "#EE2C32", "#FFFFFF"]},
        "legend": {"orient": "none", "legendX": 186, "legendY": 340, "direction": "horizontal", "title": null, "symbolType": "square", "symbolSize": 85,
          "labelFont": "DejaVu Sans", "labelFontSize": 11, "labelColor": "#222", "labelOffset": 4, "columnPadding": 19, "padding": 5, "strokeColor": "#444",
          "encode": {"symbols": {"update": {"stroke": {"value": "#8A8A8A"}, "strokeWidth": {"value": 0.6}}}}}}
    }
  },
  {
    "data": {"name": "paths"},
    "transform": [{"fold": ["Downregulated", "Upregulated"], "as": ["reg", "pct"]}],
    "mark": {"type": "bar"},
    "encoding": {
      "y": {"field": "pathway", "type": "nominal", "sort": null, "scale": {"range": [402, 727], "paddingInner": 0.21, "paddingOuter": 0.225, "align": 0.68}, "axis": null},
      "x": {"field": "pct", "type": "quantitative", "stack": "zero", "scale": {"domain": [0, 118.2], "range": [380, 790], "nice": false, "zero": false}, "axis": null},
      "fill": {"field": "reg", "type": "nominal",
        "legend": {"orient": "none", "legendX": 186, "legendY": 340, "direction": "horizontal", "title": null, "symbolType": "square", "symbolSize": 85,
          "labelFont": "DejaVu Sans", "labelFontSize": 11, "labelColor": "#222", "labelOffset": 4, "columnPadding": 19, "padding": 5, "strokeColor": "#444",
          "encode": {"symbols": {"update": {"stroke": {"value": "#8A8A8A"}, "strokeWidth": {"value": 0.6}}}}}},
      "order": {"field": "reg", "sort": "ascending"}
    }
  },
  {
    "data": {"name": "paths"},
    "mark": {"type": "text", "align": "left", "baseline": "middle", "dx": 6, "fontSize": 16, "fontWeight": "bold", "color": "#111"},
    "encoding": {
      "y": {"field": "pathway", "type": "nominal", "sort": null, "scale": {"range": [402, 727], "paddingInner": 0.21, "paddingOuter": 0.225, "align": 0.68}, "axis": null},
      "x": {"datum": 100, "type": "quantitative", "scale": {"domain": [0, 118.2], "range": [380, 790], "nice": false, "zero": false}, "axis": null},
      "text": {"field": "n", "type": "quantitative"}
    }
  },
  {
    "data": {"name": "paths"},
    "mark": {"type": "line", "strokeWidth": 1.6},
    "encoding": {
      "y": {"field": "pathway", "type": "nominal", "sort": null, "scale": {"range": [402, 727], "paddingInner": 0.21, "paddingOuter": 0.225, "align": 0.68}, "axis": null},
      "x": {"field": "logp", "type": "quantitative", "scale": {"domain": [0, 5], "range": [380, 790], "nice": false, "zero": false},
        "axis": {"orient": "bottom", "offset": -267, "values": [0, 0.5, 1, 1.5, 2, 2.5, 3, 3.5, 4, 4.5, 5], "format": ".1f", "title": "-log(p-value)", "titleFont": "DejaVu Sans", "titleFontSize": 12.5, "titleFontWeight": "normal", "titleColor": "#444", "titlePadding": 4,
          "labelFont": "DejaVu Sans", "labelFontSize": 12.5, "labelColor": "#555", "labelPadding": 4, "tickSize": 4, "tickColor": "#999", "domainColor": "#999", "grid": false, "labelFlush": false, "labelBound": false, "labelOverlap": false}},
      "order": {"field": "idx", "type": "quantitative"},
      "stroke": {"datum": "-log(p-value)", "type": "nominal", "scale": {"range": ["#F2B441"]},
        "legend": {"orient": "none", "legendX": 669, "legendY": 340, "title": null, "symbolType": "M-1,0L1,0M-0.42,-0.42L0.42,-0.42L0.42,0.42L-0.42,0.42Z", "symbolSize": 320, "symbolStrokeWidth": 2,
          "labelFont": "DejaVu Sans", "labelFontSize": 12.5, "labelColor": "#222", "labelOffset": 6, "labelLimit": 0, "padding": 5, "strokeColor": "#444",
          "encode": {"symbols": {"update": {"fill": {"value": "#F39C12"}}}}}}
    }
  },
  {
    "data": {"name": "paths"},
    "mark": {"type": "point", "shape": "square", "filled": true, "size": 64, "fill": "#F39C12", "stroke": "#F7B955", "strokeWidth": 0.8, "opacity": 1},
    "encoding": {
      "y": {"field": "pathway", "type": "nominal", "sort": null, "scale": {"range": [402, 727], "paddingInner": 0.21, "paddingOuter": 0.225, "align": 0.68}, "axis": null},
      "x": {"field": "logp", "type": "quantitative", "scale": {"domain": [0, 5], "range": [380, 790], "nice": false, "zero": false}, "axis": null}
    }
  },
  {
    "data": {"name": "nets"},
    "transform": [{"calculate": "datum.net - 1", "as": "top"}],
    "mark": {"type": "rect", "fill": "white", "stroke": "#111", "strokeWidth": 1.5},
    "encoding": {
      "y": {"field": "top", "type": "quantitative", "scale": {"domain": [0, 4], "range": [800, 993], "nice": false, "zero": false},
        "axis": {"orient": "left", "offset": 0, "title": "E", "titleAngle": 0, "titleX": 2, "titleY": 768, "titleAlign": "left", "titleBaseline": "alphabetic", "titleFontSize": 22, "titleFontWeight": "bold", "titleColor": "#000", "labels": false, "ticks": false, "domain": false, "grid": false}},
      "y2": {"field": "net"},
      "x": {"datum": 0, "type": "quantitative", "scale": {"domain": [0, 60.64], "range": [5, 763], "nice": false, "zero": false},
        "axis": {"orient": "top", "offset": -800, "values": [0.4, 24.56], "labelExpr": "datum.value < 10 ? 'Top Networks' : 'Genes associated with the network'", "labelAlign": "left", "labelFontWeight": "bold", "labelFontSize": 12.5, "labelColor": "#111", "labelPadding": 3, "labelLimit": 0, "ticks": false, "domain": false, "grid": false, "title": null, "labelFlush": false, "labelBound": false, "labelOverlap": false}},
      "x2": {"datum": 60.64}
    }
  },
  {
    "data": {"name": "nets"},
    "transform": [{"calculate": "datum.net - 1", "as": "top"}],
    "mark": {"type": "rect", "fill": "white", "stroke": "#111", "strokeWidth": 1.5},
    "encoding": {
      "y": {"field": "top", "type": "quantitative", "scale": {"domain": [0, 4], "range": [800, 993], "nice": false, "zero": false}, "axis": null},
      "y2": {"field": "net"},
      "x": {"datum": 0, "type": "quantitative", "scale": {"domain": [0, 60.64], "range": [5, 763], "nice": false, "zero": false}, "axis": null},
      "x2": {"datum": 24.4}
    }
  },
  {
    "data": {"name": "nets"},
    "transform": [{"calculate": "datum.net - 0.5", "as": "mid"}],
    "mark": {"type": "text", "align": "left", "baseline": "middle", "fontSize": 12.5, "lineHeight": 15, "dy": -6, "color": "#111"},
    "encoding": {
      "y": {"field": "mid", "type": "quantitative", "scale": {"domain": [0, 4], "range": [800, 993], "nice": false, "zero": false}, "axis": null},
      "x": {"datum": 0.15, "type": "quantitative", "scale": {"domain": [0, 60.64], "range": [5, 763], "nice": false, "zero": false}, "axis": null},
      "text": {"field": "title"}
    }
  },
  {
    "data": {"name": "genes"},
    "transform": [
      {"calculate": "length(replace(datum.g,regexp('[^A-HKLN-VX-Z]','g'),''))*0.69+length(replace(datum.g,regexp('[^MW]','g'),''))*0.89+length(replace(datum.g,regexp('[^IJ]','g'),''))*0.39+length(replace(datum.g,regexp('[^0-9]','g'),''))*0.556+length(replace(datum.g,regexp('[^a-z]','g'),''))*0.47+length(replace(datum.g,regexp('[^, /]','g'),''))*0.278+length(replace(datum.g,regexp('[^-]','g'),''))*0.333", "as": "w"},
      {"window": [{"op": "sum", "field": "w", "as": "cum"}], "groupby": ["net", "line"], "sort": [{"field": "seq"}], "frame": [null, 0]},
      {"calculate": "24.56 + (datum.cum - datum.w) * 0.968", "as": "gx"},
      {"calculate": "datum.net - 0.83 + (datum.line - 1) * 0.333", "as": "ly"}
    ],
    "mark": {"type": "text", "align": "left", "baseline": "middle", "fontSize": 12.1, "dy": 2},
    "encoding": {
      "y": {"field": "ly", "type": "quantitative", "scale": {"domain": [0, 4], "range": [800, 993], "nice": false, "zero": false}, "axis": null},
      "x": {"field": "gx", "type": "quantitative", "scale": {"domain": [0, 60.64], "range": [5, 763], "nice": false, "zero": false}, "axis": null},
      "text": {"field": "g"},
      "color": {"field": "d", "type": "nominal", "scale": {"domain": ["down", "up"], "range": ["#27A243", "#E5202A"]}, "legend": null}
    }
  }
]
}
